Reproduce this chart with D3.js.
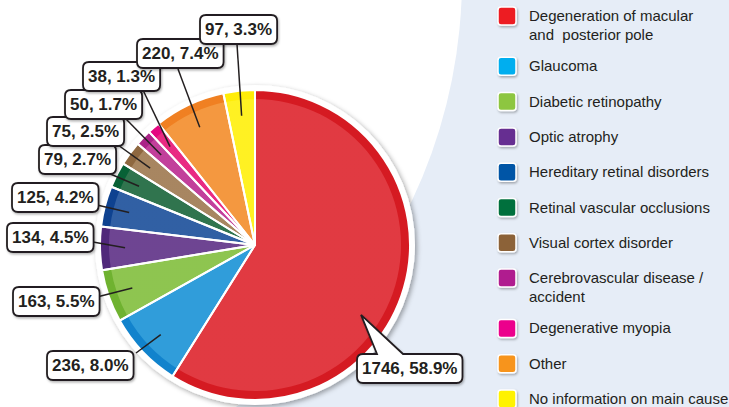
<!DOCTYPE html>
<html>
<head>
<meta charset="utf-8">
<script src="https://cdn.jsdelivr.net/npm/d3@7"></script>
<style>
  body { margin: 0; background: #fff; }
  svg { display: block; }
  .legend text { font-family: "Liberation Sans", Arial, sans-serif; font-size: 15px; fill: #231f20; white-space: pre; }
  .lbl text { font-family: "Liberation Sans", Arial, sans-serif; font-size: 17px; font-weight: bold; fill: #231f20; }
</style>
</head>
<body>
<div id="chart"></div>
<script>
// causes, in pie order (clockwise from 12 o'clock)
var categories = [
  "Degeneration of macular|and  posterior pole",
  "Glaucoma",
  "Diabetic retinopathy",
  "Optic atrophy",
  "Hereditary retinal disorders",
  "Retinal vascular occlusions",
  "Visual cortex disorder",
  "Cerebrovascular disease /|accident",
  "Degenerative myopia",
  "Other",
  "No information on main cause"
];
var counts = [1746, 236, 163, 134, 125, 79, 75, 50, 38, 220, 97];

var sliceColors  = ["#e0343c", "#2a9ad9", "#8bc34b", "#6a3f8f", "#2b5ba1", "#2a7049", "#a5825c", "#c03a98", "#e8247f", "#f4953a", "#fff11c"];
var edgeColors   = ["#d4131b", "#0a7fcb", "#6bb02a", "#4b2176", "#073c8d", "#005c30", "#8b633a", "#a81c84", "#e4007d", "#f07c1b", "#ffec00"];
var legendColors = ["#ed1c24", "#00aeef", "#8dc63f", "#662d91", "#0054a6", "#00703c", "#8c6239", "#b01e8f", "#ec008c", "#f7941d", "#fff200"];

// label boxes: top-left corner, and where the leader line leaves the box
var labelLayout = [
  { x: 357, y: 354, bubble: true, tipAngle: 123.4 },
  { x: 47,  y: 351, ax: 136, ay: 353 },
  { x: 13,  y: 287, ax: 93,  ay: 298 },
  { x: 7,   y: 223, ax: 93,  ay: 242 },
  { x: 12,  y: 183, ax: 97,  ay: 205 },
  { x: 39,  y: 145, ax: 108, ay: 173 },
  { x: 47,  y: 117, ax: 118, ay: 145 },
  { x: 65,  y: 90,  ax: 125, ay: 118 },
  { x: 83,  y: 62,  ax: 142, ay: 88 },
  { x: 137, y: 39,  ax: 178, ay: 69 },
  { x: 200, y: 15,  ax: 237, ay: 44 }
];

var width = 729, height = 407;
var cx = 255, cy = 245, radius = 155;

var svg = d3.select("#chart").append("svg")
  .attr("width", width)
  .attr("height", height);

var defs = svg.append("defs");
var shadow = defs.append("filter").attr("id", "shadow")
  .attr("x", "-20%").attr("y", "-20%").attr("width", "140%").attr("height", "140%");
shadow.append("feDropShadow").attr("dx", 2).attr("dy", 2).attr("stdDeviation", 2.5)
  .attr("flood-color", "#000").attr("flood-opacity", 0.35);
var smallShadow = defs.append("filter").attr("id", "smallShadow")
  .attr("x", "-20%").attr("y", "-30%").attr("width", "140%").attr("height", "160%");
smallShadow.append("feDropShadow").attr("dx", 1).attr("dy", 1.5).attr("stdDeviation", 1.2)
  .attr("flood-color", "#000").attr("flood-opacity", 0.3);
var shine = defs.append("linearGradient").attr("id", "shine")
  .attr("gradientUnits", "userSpaceOnUse")
  .attr("x1", cx - radius).attr("y1", cy - radius).attr("x2", cx + radius).attr("y2", cy + radius);
shine.append("stop").attr("offset", "0%").attr("stop-color", "#fff").attr("stop-opacity", 0.03);
shine.append("stop").attr("offset", "100%").attr("stop-color", "#000").attr("stop-opacity", 0.04);

// light blue background panel on the right
svg.append("rect").attr("width", width).attr("height", height).attr("fill", "#e6edf7");
svg.append("circle").attr("cx", -58).attr("cy", -22).attr("r", 520).attr("fill", "#fff");

// pie
var pie = d3.pie().sort(null).value(function(d) { return d; });
var arcs = pie(counts);

var g = svg.append("g").attr("transform", "translate(" + cx + "," + cy + ")");

g.append("circle").attr("r", radius + 5).attr("fill", "#fff").attr("filter", "url(#shadow)");

var arcFull = d3.arc().innerRadius(0).outerRadius(radius);
var arcEdge = d3.arc().innerRadius(radius - 9).outerRadius(radius);

g.selectAll("path.slice")
  .data(arcs)
  .enter().append("path")
    .attr("class", "slice")
    .attr("d", arcFull)
    .attr("fill", function(d, i) { return sliceColors[i]; });

g.selectAll("path.edge")
  .data(arcs)
  .enter().append("path")
    .attr("class", "edge")
    .attr("d", arcEdge)
    .attr("fill", function(d, i) { return edgeColors[i]; });

g.append("circle").attr("r", radius).attr("fill", "url(#shine)");

// white separators between slices
g.selectAll("path.sep")
  .data(arcs)
  .enter().append("path")
    .attr("class", "sep")
    .attr("d", arcFull)
    .attr("fill", "none")
    .attr("stroke", "#fff")
    .attr("stroke-width", 2)
    .attr("stroke-linejoin", "round");

// labels
var tipArc = d3.arc().innerRadius(130).outerRadius(130);
var fmtPct = d3.format(".1f");
var total = d3.sum(counts);

var labels = svg.append("g").attr("class", "lbl");

labelLayout.forEach(function(L, i) {
  var tip;
  if (L.tipAngle !== undefined) {
    var a = L.tipAngle * Math.PI / 180;
    tip = [cx + 127 * Math.sin(a), cy - 127 * Math.cos(a)];
  } else {
    var c = tipArc.centroid(arcs[i]);
    tip = [cx + c[0], cy + c[1]];
  }
  var txt = counts[i] + ", " + fmtPct(counts[i] / total * 100) + "%";
  var lg = labels.append("g");

  if (!L.bubble) {
    lg.append("line")
      .attr("x1", L.ax).attr("y1", L.ay)
      .attr("x2", tip[0]).attr("y2", tip[1])
      .attr("stroke", "#231f20").attr("stroke-width", 1.5);
  }

  var box = lg.append("path").attr("fill", "#fff").attr("stroke", "#231f20")
    .attr("stroke-width", 1.8).attr("filter", "url(#smallShadow)");
  var t = lg.append("text").attr("x", L.x + 5).attr("y", L.y + 20).text(txt);
  var w = t.node().getComputedTextLength() + 10;
  var h = 29, r = 6;
  var x0 = L.x, y0 = L.y, x1 = L.x + w, y1 = L.y + h;
  var p = d3.path();
  p.moveTo(x0 + r, y0);
  if (L.bubble) {
    p.lineTo(x0 + 20, y0);
    p.lineTo(tip[0], tip[1]);
    p.lineTo(x0 + 46, y0);
  }
  p.lineTo(x1 - r, y0);
  p.quadraticCurveTo(x1, y0, x1, y0 + r);
  p.lineTo(x1, y1 - r);
  p.quadraticCurveTo(x1, y1, x1 - r, y1);
  p.lineTo(x0 + r, y1);
  p.quadraticCurveTo(x0, y1, x0, y1 - r);
  p.lineTo(x0, y0 + r);
  p.quadraticCurveTo(x0, y0, x0 + r, y0);
  p.closePath();
  box.attr("d", p.toString());
});

// legend
var legend = svg.append("g").attr("class", "legend");
var ly = 16;
categories.forEach(function(name, i) {
  var lines = name.split("|");
  var item = legend.append("g").attr("transform", "translate(498," + ly + ")");
  item.append("rect")
    .attr("x", 0).attr("y", -9).attr("width", 18).attr("height", 18)
    .attr("rx", 3)
    .attr("fill", legendColors[i])
    .attr("stroke", "#fff").attr("stroke-width", 1.5)
    .attr("filter", "url(#smallShadow)");
  lines.forEach(function(line, j) {
    item.append("text")
      .attr("x", 31).attr("y", 5 + j * 18.5)
      .text(line);
  });
  ly += 35.3 + (lines.length - 1) * 15;
});
</script>
</body>
</html>
